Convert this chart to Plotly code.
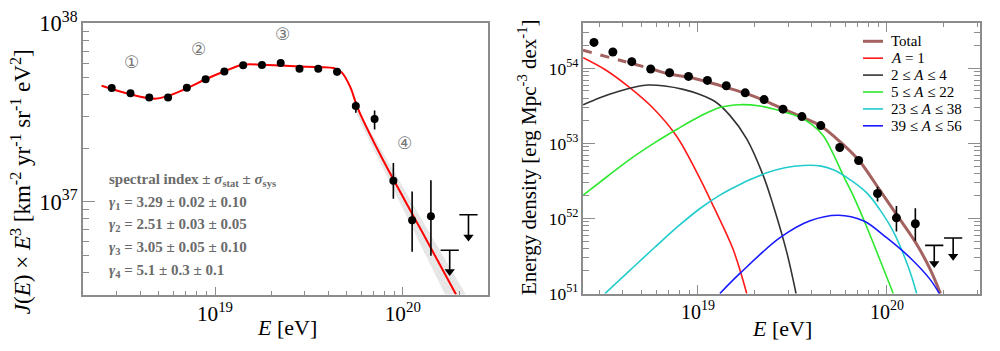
import numpy as np
import plotly.graph_objects as go

# ---------------- Left panel: spectrum J(E) x E^3 ----------------
logE_bins = [18.45, 18.55, 18.65, 18.75, 18.85, 18.95, 19.05, 19.15, 19.25,
             19.35, 19.45, 19.55, 19.65, 19.75, 19.85, 19.95, 20.05, 20.15]
spec = [4.34e37, 4.06e37, 3.85e37, 3.85e37, 4.36e37, 4.87e37, 5.38e37, 5.83e37, 5.85e37,
        6.00e37, 5.57e37, 5.57e37, 5.36e37, 3.44e37, 2.91e37, 1.31e37, 7.87e36, 8.28e36]
spec_hi = [4.34e37, 4.06e37, 3.85e37, 3.85e37, 4.36e37, 4.87e37, 5.38e37, 5.83e37, 5.85e37,
           6.00e37, 5.57e37, 5.57e37, 5.62e37, 3.65e37, 3.25e37, 1.65e37, 1.14e37, 1.32e37]
spec_lo = [4.34e37, 4.06e37, 3.85e37, 3.85e37, 4.36e37, 4.87e37, 5.38e37, 5.83e37, 5.85e37,
           6.00e37, 5.57e37, 5.57e37, 5.11e37, 3.16e37, 2.54e37, 1.04e37, 5.24e36, 4.97e36]
spec_ul_logE = [20.25, 20.35]
spec_ul_top = [5.34e36, 8.45e36]
spec_ul_head = [4.06e36, 6.34e36]

fit_logE = [18.396, 18.546, 18.680, 18.746, 18.847, 18.947, 19.048, 19.148, 19.249, 19.350,
            19.449, 19.550, 19.639, 19.675, 19.719, 19.762, 19.879, 20.092, 20.284]
fit_logY = [37.651, 37.604, 37.578, 37.592, 37.635, 37.686, 37.731, 37.769, 37.769, 37.764,
            37.759, 37.755, 37.748, 37.726, 37.647, 37.521, 37.266, 36.852, 36.479]

band_logE = [19.75, 19.80, 19.90, 20.00, 20.10, 20.20, 20.30, 20.40]
band_hi = [3.40e37, 2.79e37, 1.84e37, 1.22e37, 8.07e36, 5.27e36, 3.49e36, 2.31e36]
band_lo = [3.18e37, 2.45e37, 1.50e37, 9.14e36, 5.58e36, 3.40e36, 2.08e36, 1.27e36]

# ---------------- Right panel: energy density ----------------
dens = [2.22e54, 1.65e54, 1.23e54, 9.80e53, 8.75e53, 7.81e53, 6.91e53, 5.88e53, 4.72e53,
        3.84e53, 2.86e53, 2.28e53, 1.73e53, 8.83e52, 5.93e52, 2.15e52, 1.02e52, 8.50e51]
dens_hi = [2.22e54, 1.65e54, 1.23e54, 9.80e53, 8.75e53, 7.81e53, 6.91e53, 5.88e53, 4.72e53,
           3.84e53, 2.86e53, 2.28e53, 1.73e53, 8.83e52, 5.93e52, 2.64e52, 1.47e52, 1.37e52]
dens_lo = [2.22e54, 1.65e54, 1.23e54, 9.80e53, 8.75e53, 7.81e53, 6.91e53, 5.88e53, 4.72e53,
           3.84e53, 2.86e53, 2.28e53, 1.73e53, 8.83e52, 5.93e52, 1.68e52, 6.70e51, 5.06e51]
dens_ul_logE = [20.25, 20.35]
dens_ul_top = [4.39e51, 5.50e51]
dens_ul_head = [2.51e51, 3.15e51]

total_dash_logE = [18.392, 18.545, 18.645, 18.746]
total_dash_logY = [54.242, 54.137, 54.068, 54.000]
total_logE = [18.746, 18.847, 18.947, 19.048, 19.148, 19.249, 19.349, 19.450, 19.552,
              19.653, 19.753, 19.853, 19.910, 19.963, 20.054, 20.157, 20.228, 20.283]
total_logY = [54.000, 53.926, 53.884, 53.822, 53.748, 53.670, 53.575, 53.460, 53.349,
              53.226, 53.020, 52.769, 52.572, 52.374, 52.041, 51.658, 51.325, 51.000]

a1_logE = [18.393, 18.508, 18.631, 18.757, 18.889, 19.000, 19.079, 19.185, 19.258]
a1_logY = [54.143, 53.985, 53.760, 53.485, 53.090, 52.584, 52.177, 51.596, 51.000]

a2_logE = [18.393, 18.481, 18.587, 18.667, 18.735, 18.825, 18.922, 19.011, 19.090, 19.169,
           19.258, 19.346, 19.398, 19.469, 19.519]
a2_logY = [53.514, 53.609, 53.699, 53.751, 53.778, 53.765, 53.720, 53.652, 53.559, 53.374,
           53.062, 52.568, 52.177, 51.559, 51.000]

a3_logE = [18.393, 18.517, 18.640, 18.772, 18.889, 19.011, 19.116, 19.222, 19.328, 19.434,
           19.540, 19.603, 19.663, 19.714, 19.769, 19.831, 19.894, 19.963, 20.033]
a3_logY = [52.312, 52.553, 52.788, 53.010, 53.189, 53.362, 53.479, 53.516, 53.498, 53.436,
           53.349, 53.251, 53.102, 52.868, 52.572, 52.251, 51.880, 51.448, 51.000]

a4_logE = [18.508, 18.640, 18.772, 18.905, 19.011, 19.116, 19.222, 19.293, 19.364, 19.460,
           19.557, 19.646, 19.716, 19.787, 19.893, 19.963, 20.033, 20.113, 20.157]
a4_logY = [51.000, 51.309, 51.617, 51.917, 52.133, 52.312, 52.454, 52.535, 52.609, 52.677,
           52.707, 52.701, 52.649, 52.547, 52.341, 52.115, 51.827, 51.353, 51.000]

a5_logE = [19.116, 19.222, 19.434, 19.593, 19.742, 19.875, 19.998, 20.122, 20.228, 20.277]
a5_logY = [51.000, 51.268, 51.744, 51.970, 52.044, 51.970, 51.744, 51.477, 51.189, 51.000]

legend_names = ["Total", "<i>A</i> = 1", "2 ≤ <i>A</i> ≤ 4", "5 ≤ <i>A</i> ≤ 22",
                "23 ≤ <i>A</i> ≤ 38", "39 ≤ <i>A</i> ≤ 56"]
comp_colors = ["#a3625f", "#ff1a1a", "#333333", "#2ee82e", "#22cccc", "#1a1aff"]

index_lines = ["<b>spectral index ± <i>σ</i><sub>stat</sub> ± <i>σ</i><sub>sys</sub></b>",
               "<b><i>γ</i><sub>1</sub> = 3.29 ± 0.02 ± 0.10</b>",
               "<b><i>γ</i><sub>2</sub> = 2.51 ± 0.03 ± 0.05</b>",
               "<b><i>γ</i><sub>3</sub> = 3.05 ± 0.05 ± 0.10</b>",
               "<b><i>γ</i><sub>4</sub> = 5.1 ± 0.3 ± 0.1</b>"]
region_labels = ["①", "②", "③", "④"]
region_logE = [18.556, 18.911, 19.361, 20.011]
region_logY = [37.786, 37.855, 37.939, 37.328]

SERIF = "Liberation Serif"
AX = "#8c8c8c"


def E(v):
    return 10 ** np.asarray(v, dtype=float)


fig = go.Figure()

# left: band
fig.add_trace(go.Scatter(x=E(band_logE), y=band_lo, mode="lines", line=dict(width=0),
                         showlegend=False, hoverinfo="skip", xaxis="x", yaxis="y"))
fig.add_trace(go.Scatter(x=E(band_logE), y=band_hi, mode="lines", line=dict(width=0),
                         fill="tonexty", fillcolor="rgba(200,200,200,0.4)",
                         fillpattern=dict(shape="x", fgcolor="rgba(160,160,160,0.45)", size=4, solidity=0.2),
                         showlegend=False, hoverinfo="skip", xaxis="x", yaxis="y"))
# left: fit
fig.add_trace(go.Scatter(x=E(fit_logE), y=E(fit_logY), mode="lines", line=dict(color="#ff0000", width=2, shape="spline"),
                         showlegend=False, xaxis="x", yaxis="y"))
# left: points
spec_a = np.array(spec)
fig.add_trace(go.Scatter(x=E(logE_bins), y=spec, mode="markers", marker=dict(color="black", size=8),
                         error_y=dict(type="data", symmetric=False, array=np.array(spec_hi) - spec_a,
                                      arrayminus=spec_a - np.array(spec_lo), width=0, thickness=1.6, color="black"),
                         showlegend=False, xaxis="x", yaxis="y"))
fig.add_trace(go.Scatter(x=E(spec_ul_logE), y=spec_ul_top, mode="markers",
                         marker=dict(symbol="line-ew", size=13, line=dict(width=1.6, color="black")),
                         error_y=dict(type="data", symmetric=False, array=[0, 0],
                                      arrayminus=np.array(spec_ul_top) - np.array(spec_ul_head),
                                      width=0, thickness=1.6, color="black"),
                         showlegend=False, xaxis="x", yaxis="y"))
fig.add_trace(go.Scatter(x=E(spec_ul_logE), y=spec_ul_head, mode="markers",
                         marker=dict(symbol="triangle-down", size=9, color="black"),
                         showlegend=False, xaxis="x", yaxis="y"))

# right: components
comps = [(a1_logE, a1_logY), (a2_logE, a2_logY), (a3_logE, a3_logY), (a4_logE, a4_logY), (a5_logE, a5_logY)]
fig.add_trace(go.Scatter(x=E(total_dash_logE), y=E(total_dash_logY), mode="lines",
                         line=dict(color=comp_colors[0], width=3, dash="dash", shape="spline"),
                         showlegend=False, xaxis="x2", yaxis="y2"))
fig.add_trace(go.Scatter(x=E(total_logE), y=E(total_logY), mode="lines", name="Total",
                         line=dict(color=comp_colors[0], width=3, shape="spline"),
                         showlegend=False, xaxis="x2", yaxis="y2"))
for i, (lx, ly) in enumerate(comps):
    fig.add_trace(go.Scatter(x=E(lx), y=E(ly), mode="lines", name=legend_names[i + 1],
                             line=dict(color=comp_colors[i + 1], width=1.6, shape="spline"),
                             showlegend=False, xaxis="x2", yaxis="y2"))
dens_a = np.array(dens)
fig.add_trace(go.Scatter(x=E(logE_bins), y=dens, mode="markers", marker=dict(color="black", size=9),
                         error_y=dict(type="data", symmetric=False, array=np.array(dens_hi) - dens_a,
                                      arrayminus=dens_a - np.array(dens_lo), width=0, thickness=1.6, color="black"),
                         showlegend=False, xaxis="x2", yaxis="y2"))
fig.add_trace(go.Scatter(x=E(dens_ul_logE), y=dens_ul_top, mode="markers",
                         marker=dict(symbol="line-ew", size=13, line=dict(width=1.6, color="black")),
                         error_y=dict(type="data", symmetric=False, array=[0, 0],
                                      arrayminus=np.array(dens_ul_top) - np.array(dens_ul_head),
                                      width=0, thickness=1.6, color="black"),
                         showlegend=False, xaxis="x2", yaxis="y2"))
fig.add_trace(go.Scatter(x=E(dens_ul_logE), y=dens_ul_head, mode="markers",
                         marker=dict(symbol="triangle-down", size=9, color="black"),
                         showlegend=False, xaxis="x2", yaxis="y2"))


def axis(domain, rng, anchor, mirror, fsize, major_len, minor_len):
    return dict(domain=domain, range=rng, anchor=anchor, type="log", dtick=1,
                exponentformat="power", showexponent="all", ticklabeloverflow="allow",
                showline=True, linecolor=AX, linewidth=1.6, mirror=mirror,
                ticks="inside", ticklen=major_len, tickwidth=1, tickcolor=AX,
                minor=dict(ticks="inside", ticklen=minor_len, tickwidth=1, tickcolor=AX, dtick="D1", showgrid=False),
                showgrid=False, zeroline=False,
                tickfont=dict(family=SERIF, size=fsize, color="black"))


fig.update_layout(
    width=1000, height=351, margin=dict(l=0, r=0, t=0, b=0),
    paper_bgcolor="white", plot_bgcolor="white",
    xaxis=axis([0.083, 0.488], [18.297, 20.454], "y", True, 17, 8, 4),
    yaxis=axis([0.1425, 0.9744], [36.479, 38.001], "x", True, 18, 12, 6),
    xaxis2=axis([0.583, 0.980], [18.392, 20.492], "y2", "ticks", 16, 9, 4),
    yaxis2=axis([0.1453, 0.9744], [50.999, 54.6], "x2", "ticks", 14, 12, 6),
    showlegend=False,
)

ann = []
shapes = []
# axis titles
ann.append(dict(text="<i>J</i>(<i>E</i>) × <i>E</i><sup>3</sup> [km<sup>-2</sup> yr<sup>-1</sup> sr<sup>-1</sup> eV<sup>2</sup>]",
                x=0.021, y=1 - 180 / 351, xref="paper", yref="paper", textangle=-90, showarrow=False,
                font=dict(family=SERIF, size=23, color="black"), xanchor="center", yanchor="middle"))
ann.append(dict(text="<i>E</i> [eV]", x=0.287, y=1 - 337 / 351, xref="paper", yref="paper", showarrow=False,
                font=dict(family=SERIF, size=22, color="black"), xanchor="center", yanchor="middle"))
ann.append(dict(text="Energy density [erg Mpc<sup>-3</sup> dex<sup>-1</sup>]",
                x=0.527, y=1 - 153 / 351, xref="paper", yref="paper", textangle=-90, showarrow=False,
                font=dict(family=SERIF, size=21, color="black"), xanchor="center", yanchor="middle"))
ann.append(dict(text="<i>E</i> [eV]", x=0.782, y=1 - 338 / 351, xref="paper", yref="paper", showarrow=False,
                font=dict(family=SERIF, size=22, color="black"), xanchor="center", yanchor="middle"))
# spectral index block
rows_y = [178, 202, 226.5, 250.5, 275.5]
for t, yy in zip(index_lines, rows_y):
    ann.append(dict(text=t, x=0.107, y=1 - yy / 351, xref="paper", yref="paper", showarrow=False,
                    font=dict(family=SERIF, size=15, color="#6b6b6b"), xanchor="left", yanchor="middle"))
for t, lx, ly in zip(region_labels, region_logE, region_logY):
    ann.append(dict(text=t, x=lx, y=ly, xref="x", yref="y", showarrow=False,
                    font=dict(family="DejaVu Sans", size=17, color="#777777"), xanchor="center", yanchor="middle"))

# legend (drawn inside right panel)
legend_rows = [28.3, 46.5, 64.7, 82.9, 101.1, 119.3]
for i, (name, col, yy) in enumerate(zip(legend_names, comp_colors, legend_rows)):
    yp = 1 - yy / 351
    shapes.append(dict(type="line", xref="paper", yref="paper", x0=0.863, x1=0.883, y0=yp, y1=yp,
                       line=dict(color=col, width=3 if i == 0 else 1.6)))
    ann.append(dict(text=name, x=0.889, y=yp, xref="paper", yref="paper", showarrow=False,
                    font=dict(family=SERIF, size=15, color="black"), xanchor="left", yanchor="middle"))

fig.update_layout(annotations=ann, shapes=shapes)

fig.write_html("out.html")
